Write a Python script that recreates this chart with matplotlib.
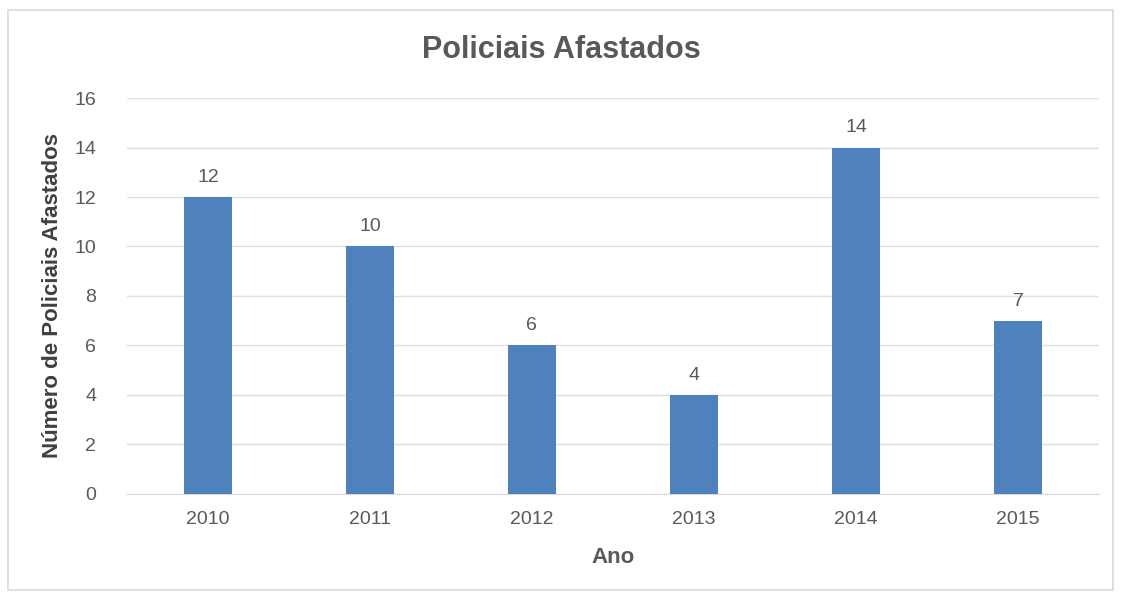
import matplotlib
matplotlib.use("Agg")
import matplotlib.pyplot as plt
from matplotlib.patches import Rectangle

# Dados
anos = ["2010", "2011", "2012", "2013", "2014", "2015"]
afastados = [12, 10, 6, 4, 14, 7]
y_ticks = [0, 2, 4, 6, 8, 10, 12, 14, 16]

plt.rcParams['font.family'] = ['Liberation Sans', 'DejaVu Sans']
cinza = "#595959"

fig = plt.figure(figsize=(11.23, 5.94), dpi=100)
ax = fig.add_axes([0.113, 0.1684, 0.8656, 0.6666])

x = range(len(anos))
ax.bar(x, afastados, width=0.30, color="#4F81BD", zorder=3)

for xi, v in zip(x, afastados):
    ax.text(xi, v + 0.45, str(v), ha="center", va="bottom", fontsize=14, color=cinza)

ax.set_xlim(-0.5, len(anos) - 0.5)
ax.set_ylim(0, 16)
ax.set_yticks(y_ticks)
ax.set_xticks(list(x))
ax.set_xticklabels(anos)
ax.tick_params(axis="both", length=0, labelsize=14, colors=cinza)
ax.tick_params(axis="x", pad=12)
ax.tick_params(axis="y", pad=22)

ax.grid(axis="y", color="#E0E0E0", linewidth=1, zorder=0)
for s in ["top", "right", "left"]:
    ax.spines[s].set_visible(False)
ax.spines["bottom"].set_color("#D9D9D9")

ax.set_xlabel("Ano", fontsize=16, fontweight="bold", color=cinza, labelpad=14)
ax.set_ylabel("Número de Policiais Afastados", fontsize=16, fontweight="bold",
              color="#404040", labelpad=8)
fig.text(0.5, 0.915, "Policiais Afastados", ha="center", va="center",
         fontsize=22, fontweight="bold", color=cinza)

# Moldura do gráfico
fig.patches.append(Rectangle((0.007, 0.007), 0.984, 0.976, transform=fig.transFigure,
                             fill=False, edgecolor="#D9D9D9", linewidth=1.2))

fig.savefig("out.png", dpi=100)
